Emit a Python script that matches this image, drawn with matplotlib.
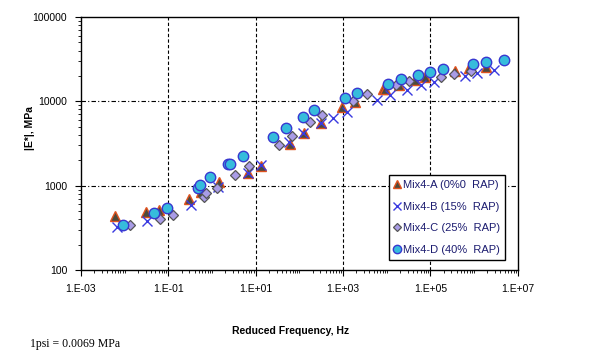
import matplotlib.pyplot as plt
from matplotlib.ticker import FixedLocator, LogLocator, NullFormatter

# Reduced frequency (Hz) and |E*| (MPa)
freq_a = [0.0060, 0.030, 0.061, 0.29, 0.56, 1.47, 6.5, 13, 62, 125, 316, 935,
          1875, 8240, 9000, 19000, 43300, 76900, 364000, 769000, 1.85e6]
e_a = [440, 490, 515, 695, 850, 1100, 1400, 1730, 3090, 4160, 5600, 8630,
       9900, 13900, 14100, 15600, 17900, 19200, 23100, 24500, 25500]

freq_b = [0.0066, 0.0324, 0.333, 1.35, 6.5, 13, 59.3, 122, 313, 602, 1233,
          5930, 12000, 28800, 59300, 119000, 608000, 1.19e6, 2.92e6]
e_b = [326, 385, 590, 972, 1420, 1750, 3250, 4250, 5460, 6290, 7540,
       10370, 11890, 13800, 15600, 16860, 20080, 21400, 23500]

freq_c = [0.0130, 0.0641, 0.130, 0.641, 0.731, 1.28, 3.39, 7.05, 34.6, 69.3,
          175, 333, 1660, 3460, 16600, 31600, 175000, 351000, 855000]
e_c = [342, 408, 455, 740, 812, 938, 1338, 1725, 3010, 3910,
       5610, 6890, 9950, 12200, 15400, 17570, 19600, 21000, 22700]

freq_d = [0.00925, 0.0464, 0.0914, 0.468, 0.533, 0.90, 2.27, 2.61, 4.99, 24.7,
          49.9, 123, 219, 1110, 2137, 10800, 20800, 52000, 96400, 190500,
          925000, 1.85e6, 4.73e6]
e_d = [342, 468, 543, 951, 1018, 1267, 1791, 1790, 2266, 3776,
       4800, 6520, 7890, 10950, 12550, 16200, 18250, 20700, 22450, 24200,
       27900, 29400, 31250]

labels = ["Mix4-A (0%0  RAP)", "Mix4-B (15%  RAP)",
          "Mix4-C (25%  RAP)", "Mix4-D (40%  RAP)"]
x_ticks = [1e-3, 1e-1, 1e1, 1e3, 1e5, 1e7]
x_ticklabels = ["1.E-03", "1.E-01", "1.E+01", "1.E+03", "1.E+05", "1.E+07"]
y_ticks = [100, 1000, 10000, 100000]

plt.rcParams['font.family'] = ['Liberation Sans', 'DejaVu Sans']

fig = plt.figure(figsize=(6, 3.53), dpi=100)
ax = fig.add_axes([0.135, 0.235, 0.728, 0.717])

ax.plot(freq_a, e_a, linestyle='none', marker='^', ms=7.5,
        mfc='#4d4a3c', mec='#e0521e', mew=1.0, label=labels[0])
ax.plot(freq_b, e_b, linestyle='none', marker='x', ms=7.5,
        color='#3a3ae0', mew=1.0, label=labels[1])
ax.plot(freq_c, e_c, linestyle='none', marker='D', ms=5.2,
        mfc='#a99ce6', mec='#555555', mew=0.9, label=labels[2])
ax.plot(freq_d, e_d, linestyle='none', marker='o', ms=7.5,
        mfc='#36bcdc', mec='#3838d0', mew=1.0, label=labels[3])

ax.set_xscale('log')
ax.set_yscale('log')
ax.set_xlim(1e-3, 1e7)
ax.set_ylim(100, 100000)

ax.xaxis.set_major_locator(FixedLocator(x_ticks))
ax.set_xticklabels(x_ticklabels)
ax.xaxis.set_minor_locator(LogLocator(base=10, subs=range(1, 10), numticks=30))
ax.xaxis.set_minor_formatter(NullFormatter())
ax.yaxis.set_major_locator(FixedLocator(y_ticks))
ax.set_yticklabels([str(v) for v in y_ticks])
ax.yaxis.set_minor_locator(LogLocator(base=10, subs=range(2, 10), numticks=30))
ax.yaxis.set_minor_formatter(NullFormatter())

ax.tick_params(which='major', length=4, width=0.8, labelsize=7.5, pad=6)
ax.tick_params(which='minor', length=2.5, width=0.6)

for t in x_ticks[1:-1]:
    ax.axvline(t, color='black', linestyle=(0, (3, 2)), lw=0.8, zorder=0)
for t in y_ticks[1:-1]:
    ax.axhline(t, color='black', linestyle=(0, (4, 2, 1, 2)), lw=0.8, zorder=0)

for s in ax.spines.values():
    s.set_color('black')
    s.set_linewidth(1.0)

ax.set_xlabel("Reduced Frequency, Hz", fontsize=7.5, fontweight='bold')
ax.xaxis.set_label_coords(0.48, -0.22)
ax.set_ylabel("|E*|, MPa", fontsize=7.5, fontweight='bold')
ax.yaxis.set_label_coords(-0.105, 0.56)

leg = ax.legend(loc='lower right', bbox_to_anchor=(0.97, 0.04), fontsize=8,
                frameon=True, fancybox=False, edgecolor='black', framealpha=1,
                handlelength=0.5, handletextpad=0.25, borderpad=0.45,
                labelspacing=1.05, markerscale=0.8, borderaxespad=0)
leg.get_frame().set_linewidth(1.0)
for txt in leg.get_texts():
    txt.set_color('#1c1c70')

fig.text(0.05, 0.018, "1psi = 0.0069 MPa", fontsize=8.5,
         family=['Liberation Serif', 'DejaVu Serif'])

fig.savefig("out.png", dpi=100)
